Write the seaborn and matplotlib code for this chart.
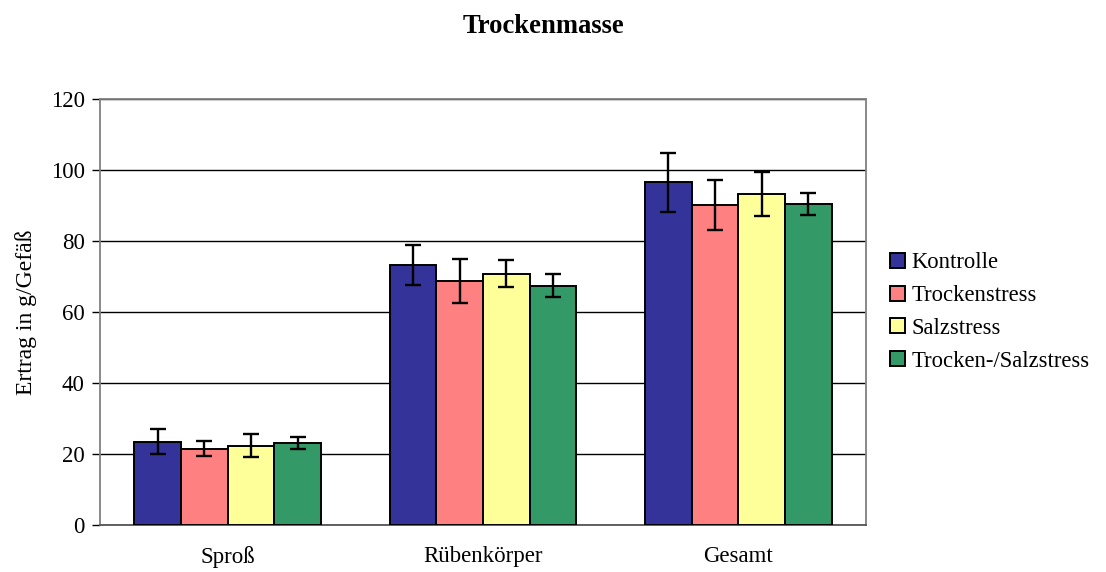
import seaborn as sns
import matplotlib.pyplot as plt
import pandas as pd

categories = ["Sproß", "Rübenkörper", "Gesamt"]
treatments = ["Kontrolle", "Trockenstress", "Salzstress", "Trocken-/Salzstress"]

kontrolle = [23.5, 73.2, 96.5]
trockenstress = [21.5, 68.7, 90.1]
salzstress = [22.3, 70.8, 93.2]
trocken_salz = [23.1, 67.4, 90.4]

err_kontrolle = [3.5, 5.7, 8.4]
err_trocken = [2.2, 6.2, 7.1]
err_salz = [3.2, 3.8, 6.2]
err_trocken_salz = [1.6, 3.3, 3.0]

colors = ["#333399", "#FF8080", "#FFFF99", "#339966"]

values = [kontrolle, trockenstress, salzstress, trocken_salz]
errors = [err_kontrolle, err_trocken, err_salz, err_trocken_salz]

rows = []
for t, vals, errs in zip(treatments, values, errors):
    for c, v, e in zip(categories, vals, errs):
        rows.append({"Teil": c, "Variante": t, "Ertrag": v, "Fehler": e})
df = pd.DataFrame(rows)

sns.set_style("white")
plt.rcParams["font.family"] = ["Liberation Serif", "DejaVu Serif"]
plt.rcParams["text.color"] = "black"
plt.rcParams["axes.labelcolor"] = "black"
plt.rcParams["xtick.color"] = "black"
plt.rcParams["ytick.color"] = "black"

fig = plt.figure(figsize=(11.06, 5.72), dpi=100)
ax = fig.add_axes([0.0904, 0.0822, 0.6926, 0.7448])

sns.barplot(data=df, x="Teil", y="Ertrag", hue="Variante", order=categories,
            hue_order=treatments, palette=colors, width=0.73, errorbar=None,
            edgecolor="black", linewidth=1.4, saturation=1, ax=ax, zorder=3)

# Fehlerbalken an die Balkenmitten setzen
for container, t in zip(ax.containers, treatments):
    sub = df[df["Variante"] == t].set_index("Teil").loc[categories]
    xs = [p.get_x() + p.get_width() / 2 for p in container]
    ax.errorbar(xs, sub["Ertrag"], yerr=sub["Fehler"], fmt="none",
                ecolor="black", elinewidth=1.7, capsize=5.5, capthick=1.7, zorder=4)

ax.set_ylim(0, 120)
ax.set_xlim(-0.5, 2.5)
ax.set_yticks(range(0, 121, 20))
ax.yaxis.grid(True, color="black", linewidth=1)
ax.set_axisbelow(True)

ax.set_xticks([-0.5, 0.5, 1.5, 2.5], minor=True)
ax.tick_params(axis="x", which="major", length=0, pad=15, labelsize=16.5)
ax.tick_params(axis="x", which="minor", length=5, width=1, color="#555555")
ax.tick_params(axis="y", length=6, width=1, color="black", labelsize=16.5, left=True, pad=5)

for side in ["top", "right", "left", "bottom"]:
    ax.spines[side].set_color("#808080")
    ax.spines[side].set_linewidth(1.3)
ax.spines["bottom"].set_color("#555555")

ax.set_xlabel("")
ax.set_ylabel("Ertrag in g/Gefäß", fontsize=17, labelpad=10)

fig.suptitle("Trockenmasse", fontsize=19.2, fontweight="bold", x=0.491, y=0.975)

handles, labels = ax.get_legend_handles_labels()
ax.legend(handles, labels, loc="center left", bbox_to_anchor=(1.005, 0.5),
          frameon=False, fontsize=16.3, handlelength=0.65, handleheight=0.65,
          handletextpad=0.3, labelspacing=0.52)

fig.savefig("out.png", dpi=100)
